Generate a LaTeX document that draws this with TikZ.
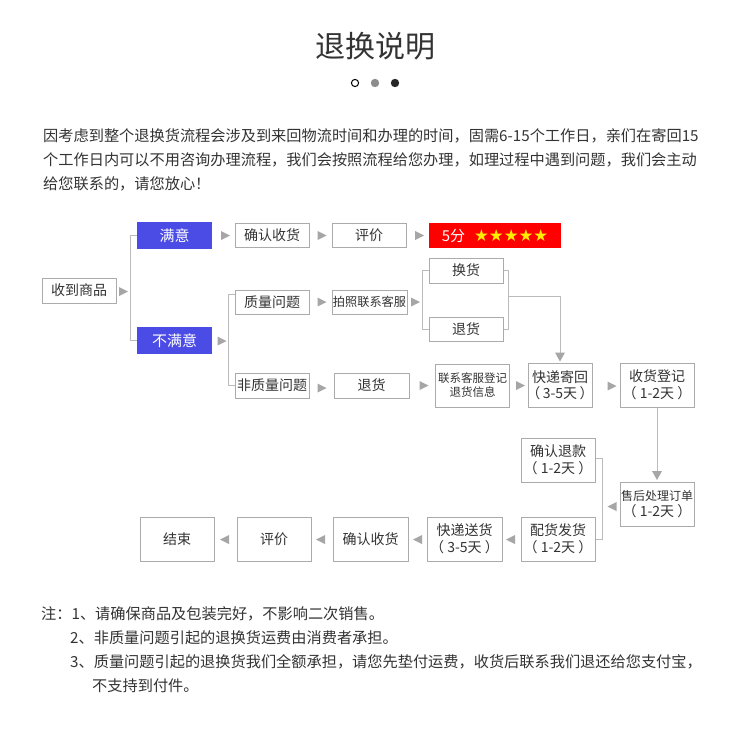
\documentclass[tikz,border=0pt]{standalone}
\usepackage{fontspec}
\setmainfont{Noto Sans CJK SC}
\newfontfamily\symf{DejaVu Sans}
\usetikzlibrary{calc}
\definecolor{txt}{HTML}{333333}
\definecolor{boxc}{HTML}{ABABAB}
\definecolor{linec}{HTML}{BBBBBB}
\definecolor{tric}{HTML}{A6A6A6}
\definecolor{bluec}{HTML}{4B4BE6}
\definecolor{redc}{HTML}{FF0000}
\definecolor{starc}{HTML}{FFEE00}
\begin{document}
\begin{tikzpicture}[x=1pt,y=-1pt,
  box/.style={draw=boxc,line width=1pt,fill=white,text=txt,inner sep=0pt,minimum width=74pt,minimum height=24pt,font=\fontsize{14}{16}\selectfont},
  tallbox/.style={box,minimum height=44pt,align=center,font=\fontsize{14}{16.5}\selectfont},
  satbox/.style={fill=bluec,text=white,inner sep=0pt,minimum width=75pt,minimum height=27pt,font=\fontsize{15}{17}\selectfont},
  conn/.style={draw=linec,line width=1pt},
  para/.style={anchor=west,inner sep=0pt,text=txt,font=\fontsize{15.2}{18}\selectfont},
  rtri/.pic={\fill[tric] (-4.5,-4.5) -- (4.5,0) -- (-4.5,4.5) -- cycle;},
  ltri/.pic={\fill[tric] (4.5,-4.5) -- (-4.5,0) -- (4.5,4.5) -- cycle;},
  dtri/.pic={\fill[tric] (-5,-4.5) -- (5,-4.5) -- (0,4.5) -- cycle;}
]
\fill[white] (0,0) rectangle (750,752);
\useasboundingbox (0,0) rectangle (750,752);

% title and dots
\node[font=\fontsize{30}{34}\selectfont,text=txt,inner sep=0pt] (title) at (375,46) {退换说明};
\draw[black,line width=1pt] (355,83) circle[radius=3.6];
\fill[gray!90] (375,83) circle[radius=4.2];
\fill[black!85] (395,83) circle[radius=4.2];

% intro paragraph
\node[para] (p1) at (43,136) {因考虑到整个退换货流程会涉及到来回物流时间和办理的时间，固需6-15个工作日，亲们在寄回15};
\node[para] (p2) at (43,160) {个工作日内可以不用咨询办理流程，我们会按照流程给您办理，如理过程中遇到问题，我们会主动};
\node[para] (p3) at (43,184) {给您联系的，请您放心！};

% flow boxes
\node[box,minimum height=25pt] (recv) at (79,290.5) {收到商品};
\node[satbox] (sat) at (174.5,235.5) {满意};
\node[satbox] (unsat) at (174.5,340.5) {不满意};
\node[box] (conf1) at (272,235) {确认收货};
\node[box] (eval1) at (369,235) {评价};
\node[fill=redc,inner sep=0pt,minimum width=132pt,minimum height=25pt,text=white,font=\fontsize{15}{17}\selectfont] (score) at (495,235.5) {5分\hspace{9pt}{\symf\fontsize{16.5}{17}\selectfont\color{starc}★★★★★}};
\node[box] (qual) at (272,302) {质量问题};
\node[box,minimum width=75pt,font=\fontsize{12.2}{14}\selectfont] (photo) at (369.5,302) {拍照联系客服};
\node[box,minimum height=25pt] (exch) at (466,270.5) {换货};
\node[box] (ret1) at (466,329) {退货};
\node[box,minimum height=25pt] (nonq) at (272,385.5) {非质量问题};
\node[box,minimum width=75pt,minimum height=25pt] (ret2) at (371.5,385.5) {退货};
\node[tallbox,minimum height=43pt,font=\fontsize{11.5}{14}\selectfont] (contact) at (472.5,385.5) {联系客服登记\\退货信息};
\node[tallbox,minimum width=64pt] (expback) at (560,385) {快递寄回\\\makebox[60pt]{（\,3-5天\,）}};
\node[tallbox] (recvreg) at (657,385) {收货登记\\（ 1-2天 ）};
\node[tallbox,font=\fontsize{14}{16}\selectfont] (after) at (657,504) {{\fontsize{12}{14}\selectfont 售后处理订单}\\（ 1-2天 ）};
\node[tallbox] (refund) at (558,460) {确认退款\\（ 1-2天 ）};
\node[tallbox] (disp) at (558,539) {配货发货\\（ 1-2天 ）};
\node[tallbox,minimum width=75pt] (expsend) at (464.5,539) {快递送货\\（ 3-5天 ）};
\node[tallbox,minimum width=75pt] (conf2) at (370.5,539) {确认收货};
\node[tallbox] (eval2) at (274,539) {评价};
\node[tallbox] (fin) at (177,539) {结束};

% connectors
\draw[conn] (sat.west) -- ++(-6,0) |- (unsat.west);
\draw[conn] ($(qual.west)+(0,-8)$) -- ++(-6,0) |- (nonq.west);
\draw[conn] (exch.west) -- ++(-6,0) |- (ret1.west);
\draw[conn] (exch.east) -- ++(5,0) |- (ret1.east);
\coordinate (jn) at (508,296);
\coordinate (dt1) at ($(expback.north)+(0,-10)$);
\draw[conn] (jn) -| (dt1);
\pic at ($(expback.north)+(0,-5.5)$) {dtri};
\coordinate (dt2) at ($(after.north)+(0,-11)$);
\draw[conn] (recvreg.south) -- (dt2);
\pic at ($(after.north)+(0,-6)$) {dtri};
\draw[conn] ($(refund.east)+(0,-2)$) -- ++(7,0) |- (disp.east);

% separator triangles
\foreach \p in {(123.5,291.5),(225.5,235.5),(322,235.5),(419.5,235.5),(222,341),(322,302),(415.5,302),(322,388),(424,385.5),(520.5,385.5),(612,386)}
  \pic at \p {rtri};
\foreach \p in {(612,506.5),(510.5,539.5),(417.5,539.5),(320.5,539.5),(224.5,539.5)}
  \pic at \p {ltri};

% notes
\node[para] (n1) at (41,614) {注：1、请确保商品及包装完好，不影响二次销售。};
\node[para] (n2) at (70,638) {2、非质量问题引起的退换货运费由消费者承担。};
\node[para] (n3) at (70,662) {3、质量问题引起的退换货我们全额承担，请您先垫付运费，收货后联系我们退还给您支付宝，};
\node[para] (n4) at (92,686) {不支持到付件。};
\end{tikzpicture}
\end{document}
